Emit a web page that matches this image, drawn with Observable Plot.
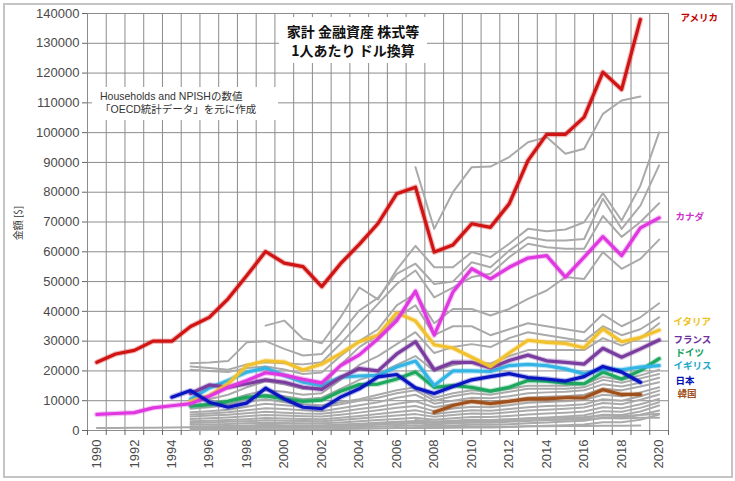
<!DOCTYPE html>
<html><head><meta charset="utf-8">
<script src="https://cdn.jsdelivr.net/npm/d3@7"></script>
<script src="https://cdn.jsdelivr.net/npm/@observablehq/plot@0.6"></script>
<style>
body{margin:0;background:#fff;}
#wrap{position:relative;width:735px;height:481px;overflow:hidden;font-family:"Liberation Sans","Noto Sans CJK JP",sans-serif;background:#fff;}
#border{position:absolute;left:3px;top:3px;width:726px;height:471px;border:2px solid #c4c4c4;pointer-events:none}
#title{position:absolute;left:279px;top:17px;width:148px;height:46px;background:#fff;font-family:"Noto Sans CJK JP",sans-serif;font-size:14px;font-weight:bold;color:#111;}
#title div{position:absolute;left:0;width:100%;text-align:center;line-height:16px;height:16px}
#note{position:absolute;left:92px;top:87px;width:186px;height:33px;background:#fff;font-family:"Liberation Sans","Noto Sans CJK JP",sans-serif;font-size:10.5px;line-height:13px;color:#333;padding:3px 0 0 8px;box-sizing:border-box;white-space:nowrap}
#ylab{position:absolute;left:-12px;top:216px;width:60px;height:14px;text-align:center;font-family:"Noto Sans CJK JP",sans-serif;font-size:10px;line-height:14px;color:#333;transform:rotate(-90deg);transform-origin:center}
</style></head>
<body>
<div id="wrap">
<div id="chart"></div>
<div id="title"><div style="top:6px">家計 金融資産 株式等</div><div style="top:25px">1人あたり ドル換算</div></div>
<div id="note">Households and NPISHの数値<br>「OECD統計データ」を元に作成</div>
<div id="ylab">金額 [$]</div>
<div id="border"></div>
</div>
<script>
// ---- data ----
const yTicks = [0,10000,20000,30000,40000,50000,60000,70000,80000,90000,100000,110000,120000,130000,140000];
const labelYears = [1990,1992,1994,1996,1998,2000,2002,2004,2006,2008,2010,2012,2014,2016,2018,2020];

const usa    = [22900,25700,26900,30000,30000,34900,38000,44200,52000,60100,56200,55000,48300,56000,62500,69500,79500,81700,59900,62300,69400,68200,76100,90600,99400,99400,105200,120300,114500,138000]; // 1990-2019
const canada = [5400,5700,6000,7600,8300,9000,11500,14500,16800,19400,18600,17200,16000,21800,25400,30800,36900,46800,32000,46500,54300,50900,54800,57900,58700,51500,58200,65100,58700,68000,71400]; // 1990-2020
const italy  = [9800,11700,15700,21800,23400,23000,20300,22300,25800,29800,32000,39500,36800,28800,27700,24600,21500,26000,30300,29600,29200,27800,34100,29800,31200,33700]; // 1995-2020
const france = [12400,15300,14500,15700,17000,16200,14500,13800,17800,20800,20000,25700,29800,20400,22900,22900,21000,23500,25300,23400,22900,22300,27600,24600,27400,30400]; // 1995-2020
const germany= [8200,8700,9800,11200,11600,10600,9800,10200,13200,15400,15600,17300,19600,14500,15100,14500,13200,14500,16800,16600,15900,15700,19600,17300,20100,24100]; // 1995-2020
const uk     = [10500,14300,16800,19600,21000,18500,16200,15100,17900,18300,18500,21300,23300,15100,20000,20000,19800,21800,22200,21800,20700,19000,20700,20400,21300,21800]; // 1995-2020
const japan  = [11200,13400,9500,7800,9200,14200,10600,7800,7300,11200,14000,18000,18800,14300,12400,14800,17000,18100,19100,17800,17300,16600,18100,21500,19600,16200]; // 1994-2019
const korea  = [6100,8400,9800,9000,9800,10600,10600,11000,11000,13700,12100,12100]; // 2008-2019

// other OECD countries: [first year, values]
const others = [
  [2007,[88400,67700,80000,88400,88600,91800,96800,98500,92900,94600,106300,110800,112100]],
  [1999,[35200,36900,30800,29300,38000,48000,44000,54000,62000,54800,54800,59900,58200,62700,67700,66900,67500,69900,79700,70500,82200,100100]],
  [1995,[22600,22800,23300,29600,30000,27400,25200,25700,32500,40300,44500,52600,56000,49200,50000,56500,54800,60400,64900,63800,63800,64300,77800,67700,75500,89000]],
  [1995,[21500,21000,20400,22200,22900,22600,22200,22900,29100,35800,42500,49200,53700,44700,48000,51500,52600,58200,62700,61500,61000,61000,72000,65000,70000,76300]],
  [1995,[20400,20000,19600,21000,21500,20500,19000,19500,25000,30000,34000,42000,46000,36000,40800,40800,38600,40800,44200,47000,51500,50900,59900,54300,57600,64100]],
  [1995,[9500,10500,12000,14500,16500,15500,14000,14500,22000,28000,32000,38000,42000,32000,35000,35000,32000,34000,36000,35000,34000,33000,39000,35000,38000,42700]],
  [1995,[8500,9000,10000,12000,13500,13000,12000,12500,17000,22000,25000,29000,33000,26000,28000,29000,28000,31000,33000,32000,31000,30000,35000,32000,34000,38000]],
  [1995,[8000,8500,9000,10500,12000,11500,10500,11000,14000,17000,19000,22000,25000,20000,22000,23000,22500,25000,27000,27000,27000,27000,31000,28500,31000,36000]],
  [1995,[7300,7800,8500,9500,10500,9500,8800,8500,9500,10500,12000,13500,14500,11000,12500,13500,13000,14000,15000,15000,15000,15500,18000,17000,18500,20400]],
  [1995,[6100,6500,7000,8000,9000,8500,8000,7800,8800,10000,11000,12500,13500,10000,11500,12500,12000,13000,14000,14000,14000,14500,17000,16000,17500,19000]],
  [1995,[5400,5700,6100,6800,7500,7200,6800,6500,7500,8500,9500,11000,12000,9000,10000,11000,10800,11500,12500,12800,13000,13500,15500,14800,16000,17700]],
  [1995,[4700,5000,5300,5800,6300,6000,5700,5600,6300,7200,8000,9000,9800,7800,8800,9500,9300,10000,11000,11300,11500,12000,14000,13500,14800,16200]],
  [1995,[3900,4100,4400,4800,5200,5000,4800,4700,5300,6000,6800,7600,8200,6500,7400,8000,7800,8500,9300,9600,9800,10200,12000,11500,12800,14500]],
  [1995,[3100,3300,3500,3800,4200,4000,3900,3800,4300,4900,5500,6200,6800,5500,6200,6800,6600,7200,7800,8200,8400,8800,10500,10000,11500,13400]],
  [1995,[2500,2700,2900,3100,3400,3300,3200,3100,3500,4000,4500,5000,5500,4600,5200,5700,5600,6100,6700,7000,7300,7700,9200,8800,10300,12100]],
  [1995,[1900,2000,2200,2400,2600,2500,2400,2400,2700,3100,3500,3900,4300,3600,4100,4500,4500,4900,5400,5700,6000,6400,7800,7500,8800,10600]],
  [1995,[1300,1400,1500,1700,1900,1800,1800,1800,2000,2300,2600,2900,3200,2700,3100,3400,3400,3700,4100,4400,4700,5100,6500,6300,7600,9500]],
  [1995,[900,1000,1100,1200,1400,1300,1300,1300,1500,1700,1900,2100,2400,2000,2400,2600,2600,2900,3200,3500,3800,4200,5300,5200,6400,8400]],
  [1995,[600,600,700,800,900,900,900,900,1000,1200,1300,1500,1700,1500,1700,1900,1900,2100,2400,2700,3000,3300,4300,4200,5300,6700]],
  [1995,[200,200,300,300,400,400,400,400,500,600,700,800,900,800,900,1000,1000,1200,1400,1600,1800,2000,2800,2800,3600,5400]],
  [1990,[800,850,900,950,1000,1100,1200,1300,1400,1500,1500,1500,1500,1700,2000,2300,2600,2900,2500,2800,3000,3000,3200,3400,3500,3600,3800,4200,4000,4300,4300]],
  [2007,[1000,1100,1200,1300,1300,1300,1400,1400,1500,1500,1600,1600,1700]],
  [2007,[3500,3000,3300,3600,3500,3800,4000,4200,4300,4500,5000,4800,5200,5600]]
];

const labels = [
  {name:"アメリカ", y:138600, dx:12, color:"#c00000"},
  {name:"カナダ",   y:71800,  dx:7,  color:"#cc33cc"},
  {name:"イタリア", y:36600,  dx:5,  color:"#f0c020"},
  {name:"フランス", y:30300,  dx:5,  color:"#7030a0"},
  {name:"ドイツ",   y:26000,  dx:7,  color:"#10a060"},
  {name:"イギリス", y:21700,  dx:5,  color:"#20a8c8"},
  {name:"日本",     y:16800,  dx:7,  color:"#0010b0"},
  {name:"韓国",     y:12300,  dx:9,  color:"#a0501a"}
];

// ---- build rows ----
function rows(start, vals, id) { return vals.map((v,i)=>({id, year:start+i, value:v})); }
const greyRows = others.flatMap(([s,v],i)=>rows(s,v,"g"+i));
const main = [
  {id:"korea",  start:2008, vals:korea,  color:"#a0501a"},
  {id:"germany",start:1995, vals:germany,color:"#1ea85e"},
  {id:"uk",     start:1995, vals:uk,     color:"#33b4e4"},
  {id:"france", start:1995, vals:france, color:"#7a3c9e"},
  {id:"italy",  start:1995, vals:italy,  color:"#f2c12e"},
  {id:"canada", start:1990, vals:canada, color:"#e038e0"},
  {id:"japan",  start:1994, vals:japan,  color:"#0a14c0"},
  {id:"usa",    start:1990, vals:usa,    color:"#d01414"}
];
const boundaries = d3.range(1989.5, 2021, 1);

const colorMarks = main.flatMap(s => {
  const r = rows(s.start, s.vals, s.id);
  return [
    Plot.line(r, {x:"year", y:"value", stroke:s.color, strokeWidth:5.5, strokeOpacity:0.3}),
    Plot.line(r, {x:"year", y:"value", stroke:s.color, strokeWidth:3.2})
  ];
});

const chart = Plot.plot({
  width:735, height:481,
  marginLeft:87, marginRight:67, marginTop:13, marginBottom:51,
  x:{domain:[1989.5,2020.5]},
  y:{domain:[0,140000]},
  style:{fontFamily:"'Liberation Sans', sans-serif", fontSize:"13px", color:"#4a4a4a", background:"transparent"},
  marks:[
    Plot.ruleY(yTicks, {stroke:"#8c8c8c", strokeWidth:1}),
    Plot.ruleX(boundaries, {stroke:"#8c8c8c", strokeWidth:1}),
    Plot.axisY({ticks:yTicks, tickSize:5, tickPadding:3, tickFormat:d=>String(d), label:null, stroke:"#666"}),
    Plot.axisX({ticks:boundaries, tickSize:5, tickFormat:()=> "", label:null, stroke:"#666"}),
    Plot.axisX({ticks:labelYears, tickSize:0, tickRotate:-90, tickPadding:9, tickFormat:d=>String(d), label:null}),
    Plot.line(greyRows, {x:"year", y:"value", z:"id", stroke:"#aaaaaa", strokeWidth:2}),
    ...colorMarks,
    Plot.text(labels, {x:()=>2020.5, y:"y", text:"name", fill:"color", textAnchor:"start", fontSize:9.5, fontWeight:"bold", fontFamily:"'Noto Sans CJK JP', sans-serif"})
  ]
});
document.getElementById("chart").appendChild(chart);
// per-label horizontal offsets
const texts = chart.querySelectorAll("g[aria-label='text'] text");
texts.forEach((t,i)=>{ t.setAttribute("dx", labels[i].dx); });
</script>
</body></html>
